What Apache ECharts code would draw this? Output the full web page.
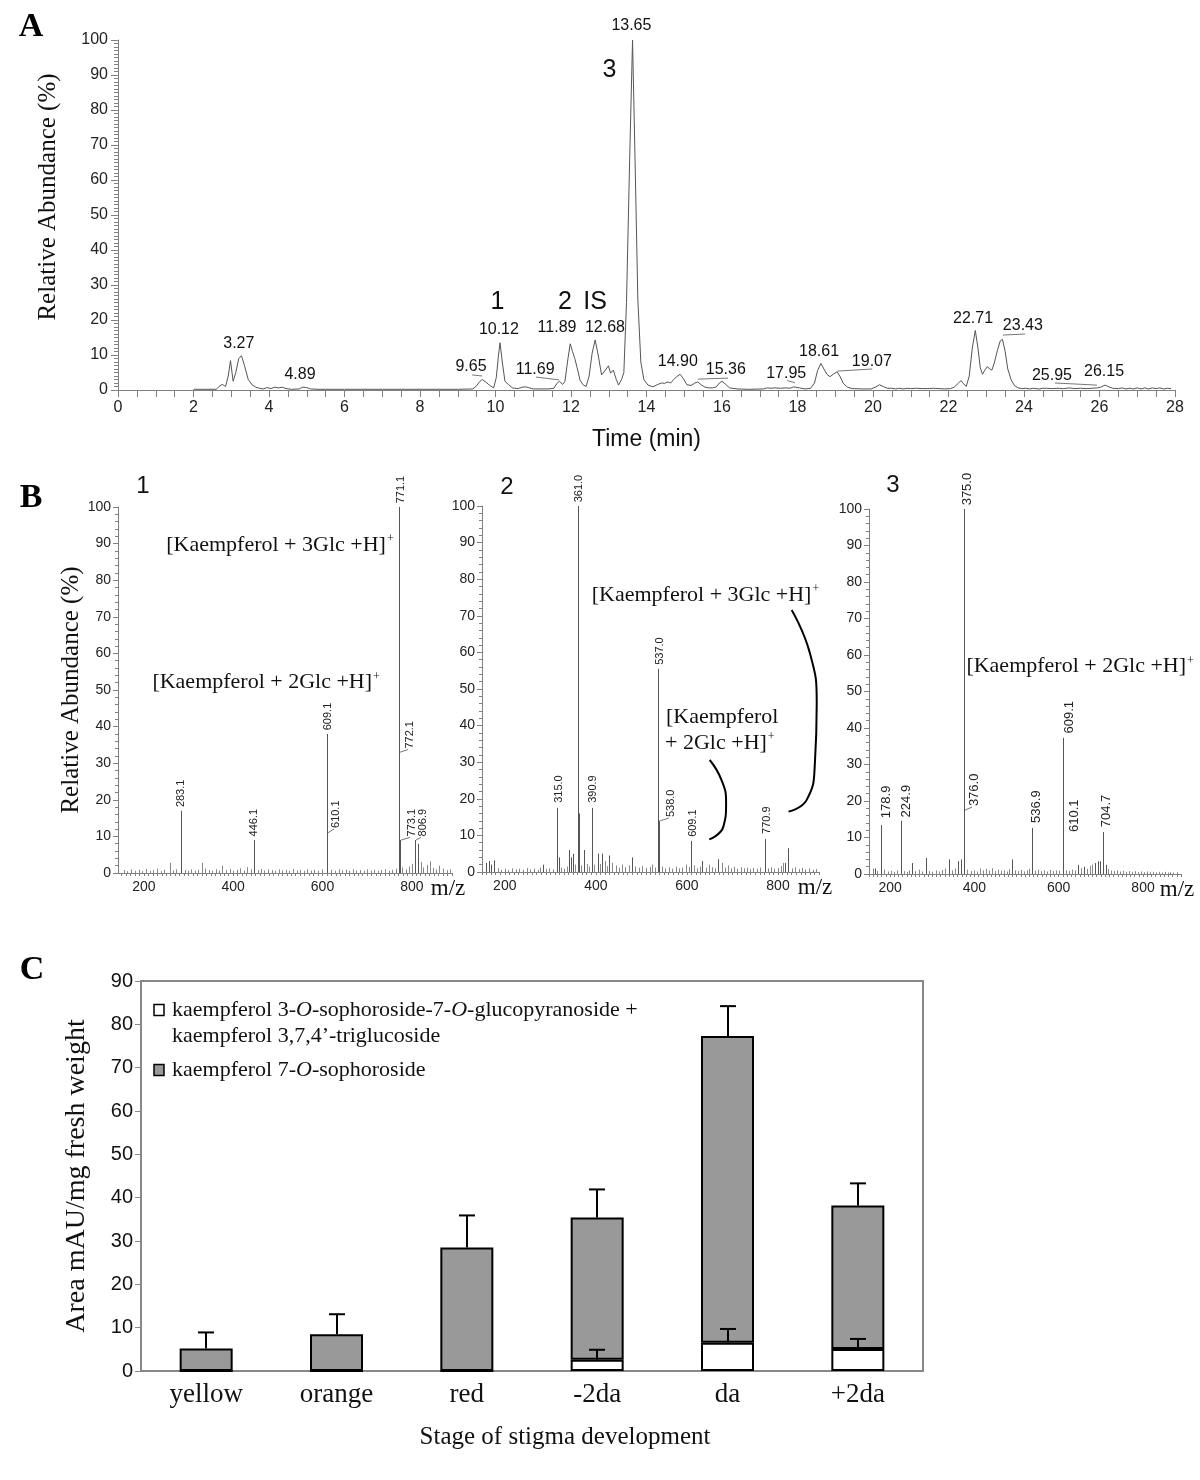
<!DOCTYPE html>
<html><head><meta charset="utf-8">
<script src="https://cdn.jsdelivr.net/npm/echarts@6/dist/echarts.min.js"></script>
<style>html,body{margin:0;padding:0;background:#fff}#c{width:1200px;height:1480px}</style>
</head><body><div id="c"></div>
<script>
const SANS = '"Liberation Sans", Arial, Helvetica, sans-serif';
const SERIF = '"Liberation Serif", "Times New Roman", Times, serif';

// ---------------- Panel A: chromatogram ----------------
const chromTime = [2.00,2.60,2.70,2.76,2.85,2.92,2.98,3.05,3.12,3.20,3.27,3.35,3.45,3.55,3.65,3.75,3.85,3.95,4.05,4.15,4.25,4.35,4.45,4.60,4.80,4.89,5.00,5.10,5.30,6.00,7.00,8.00,9.00,9.40,9.50,9.58,9.65,9.75,9.85,9.95,10.02,10.08,10.12,10.18,10.25,10.35,10.45,10.60,10.70,10.80,10.90,11.00,11.40,11.55,11.62,11.69,11.78,11.84,11.92,11.98,12.04,12.10,12.16,12.24,12.32,12.40,12.48,12.56,12.64,12.72,12.81,12.90,12.99,13.05,13.12,13.20,13.26,13.34,13.40,13.47,13.55,13.63,13.70,13.77,13.85,13.93,14.04,14.17,14.30,14.40,14.48,14.56,14.64,14.72,14.80,14.89,14.98,15.07,15.18,15.28,15.36,15.45,15.55,15.65,15.75,15.85,15.93,16.00,16.08,16.20,16.40,16.70,17.10,17.20,17.30,17.40,17.55,17.70,17.80,17.90,17.95,18.05,18.20,18.35,18.45,18.53,18.62,18.70,18.78,18.86,18.96,19.05,19.12,19.22,19.32,19.45,19.70,19.95,20.08,20.17,20.27,20.38,20.50,20.60,20.70,20.80,20.90,21.00,21.15,21.30,21.45,21.60,21.75,21.90,22.05,22.15,22.25,22.33,22.40,22.47,22.55,22.63,22.71,22.78,22.84,22.90,22.97,23.03,23.09,23.15,23.22,23.30,23.37,23.43,23.50,23.57,23.66,23.75,23.85,23.95,24.05,24.15,24.25,24.40,24.50,24.60,24.75,24.90,25.05,25.20,25.35,25.50,25.65,25.80,25.95,26.05,26.15,26.25,26.35,26.50,26.60,26.70,26.80,26.90,27.00,27.10,27.20,27.30,27.40,27.50,27.60,27.70,27.80,27.90];
const chromAbund = [0.2,0.2,1.2,1.6,1.0,4.0,8.4,2.5,5.0,9.0,9.8,7.0,3.0,1.5,0.8,0.5,0.3,0.7,0.4,0.8,0.6,0.8,0.4,0.2,0.3,0.8,0.7,0.3,0.2,0.2,0.2,0.2,0.2,0.3,1.2,2.4,3.0,2.2,1.3,0.6,3.5,10.0,13.5,8.0,2.5,1.5,0.6,0.4,0.8,0.9,0.6,0.3,0.3,0.5,1.8,2.5,1.6,2.5,9.0,13.2,11.0,9.0,6.5,2.8,1.5,1.0,4.0,10.5,14.3,10.0,4.3,5.5,6.9,4.8,5.7,3.0,1.4,3.0,5.0,25,64,100,64,26,8,3.0,1.4,0.9,1.6,2.0,1.9,2.3,2.0,3.0,3.8,4.5,3.2,1.5,1.3,2.0,2.3,1.5,0.8,0.6,0.6,0.9,2.0,2.5,1.8,0.6,0.3,0.2,0.3,0.6,0.5,0.6,0.5,0.6,0.5,0.9,1.1,0.6,0.3,0.5,2.0,5.5,7.6,6.0,4.5,3.8,4.6,5.2,4.0,1.8,0.8,0.4,0.3,0.3,0.9,1.5,1.0,0.5,0.5,0.3,0.5,0.3,0.5,0.4,0.5,0.4,0.4,0.5,0.4,0.3,0.4,0.8,1.8,2.7,1.8,1.0,4.0,12,17,12,6.5,4.5,5.8,6.7,6.0,5.7,8.0,11.5,14.0,14.5,11.0,6.0,2.9,1.2,0.6,0.4,0.5,0.3,0.5,0.3,0.5,0.5,0.4,0.5,0.4,0.6,0.4,0.5,0.4,0.5,0.6,0.9,1.4,0.9,0.5,0.4,0.6,0.3,0.5,0.3,0.6,0.3,0.6,0.3,0.6,0.4,0.6,0.3,0.5,0.4];

// retention-time labels: [text, time, abundance]
const chromLabels = [
  ['3.27',3.20,13.4],['4.89',4.82,4.3],['9.65',9.35,6.7],['10.12',10.09,17.4],
  ['11.69',11.05,5.7],['11.89',11.63,17.7],['12.68',12.90,17.7],['13.65',13.60,104],
  ['14.90',14.83,8.1],['15.36',16.10,5.7],['17.95',17.70,4.8],['18.61',18.57,10.9],
  ['19.07',19.97,8.0],['22.71',22.65,20.5],['23.43',23.97,18.3],['25.95',24.74,4.0],
  ['26.15',26.12,5.4]
];
const chromLeaders = [
  [9.38,4.3,9.65,4.0],[11.07,3.7,11.68,2.9],[15.36,3.1,16.16,3.4],[17.73,2.7,17.93,2.1],
  [19.05,5.4,19.98,6.0],[23.44,15.7,24.03,16.0],[24.82,2.0,25.93,1.4]
];
const peakIds = [['1',10.05,25.2],['2',11.84,25.2],['IS',12.64,25.2],['3',13.02,91.4]];

// ---------------- Panel B: mass spectra ----------------
const mzTicks = [200,400,600,800];
const spec1Peaks = [[283.1,17],[284.1,6.5],[446.1,9],[609.1,38],[610.1,11],[771.1,100],[772.1,33],[773.1,9],[806.9,9],[813.9,8]];
const spec1Noise = [[155,0.8],[163,0.5],[171,1.0],[180,0.6],[188,0.9],[196,0.5],[205,1.1],[213,0.6],[221,0.8],[230,1.2],[238,0.5],[246,0.9],[258,2.8],[266,0.7],[273,1.0],[291,0.8],[298,0.6],[306,1.0],[314,0.7],[322,0.9],[330,2.8],[337,1.2],[345,0.8],[353,0.6],[361,1.0],[368,0.7],[376,2.0],[384,0.8],[392,1.1],[400,0.6],[408,0.9],[416,1.3],[424,0.7],[432,1.6],[440,1.0],[455,0.8],[462,1.1],[470,0.7],[478,1.0],[486,0.8],[494,0.6],[502,1.0],[510,0.7],[518,0.9],[526,0.6],[534,1.1],[542,0.7],[550,0.9],[558,0.6],[566,1.0],[574,0.7],[582,0.9],[590,0.6],[598,1.0],[620,0.9],[628,0.6],[636,1.0],[644,0.7],[652,0.9],[660,0.6],[668,1.0],[676,0.7],[684,0.8],[692,0.6],[700,1.0],[708,0.7],[716,0.9],[724,0.6],[732,0.8],[740,1.0],[748,0.6],[756,0.9],[764,1.2],[779,1.5],[786,1.0],[794,1.8],[800,2.5],[820,3.0],[826,1.5],[833,2.2],[840,3.2],[848,1.4],[855,1.0],[862,2.0],[870,1.2],[878,0.8],[885,1.0]];
const spec2Peaks = [[158,2.5],[165,3.0],[170,2.0],[176,3.2],[283,2],[315.0,17.5],[318,4],[340,6],[345,4],[350,5],[361.0,100],[362.0,16],[373,6],[390.9,17.5],[404,5],[414,5],[429,4.5],[480,4],[537.0,55.5],[538.0,14],[609.1,8.5],[634,3],[669,3.5],[770.9,9],[815,2.5],[823,6.5]];
const spec2Noise = [[185,1.0],[192,0.6],[200,0.9],[208,0.5],[216,1.0],[224,0.7],[232,0.9],[240,0.6],[248,1.1],[256,0.7],[264,0.9],[272,0.6],[278,1.2],[290,0.8],[298,1.0],[306,0.7],[323,1.2],[330,0.9],[336,1.5],[355,2.0],[368,1.8],[380,2.2],[385,1.5],[397,2.0],[410,2.2],[420,3.0],[425,1.6],[436,2.5],[444,1.8],[450,1.2],[458,2.0],[465,1.3],[472,1.8],[487,1.5],[494,1.2],[502,1.6],[510,1.1],[518,1.4],[524,2.0],[530,1.2],[545,1.5],[552,1.0],[560,1.3],[568,0.9],[575,1.5],[583,1.0],[590,1.2],[598,2.0],[604,1.4],[616,1.8],[622,1.0],[628,1.5],[641,1.2],[648,2.0],[655,1.3],[662,1.0],[676,2.5],[683,1.2],[690,1.8],[697,1.0],[704,1.4],[711,0.9],[718,1.3],[725,1.0],[732,1.2],[739,0.8],[746,1.1],[753,0.9],[760,1.2],[778,1.0],[785,1.3],[792,0.9],[799,1.1],[806,1.6],[810,2.5],[830,1.0],[838,1.3],[845,0.8],[852,1.1],[860,0.7],[868,1.0],[876,0.6],[884,0.8]];
const spec3Peaks = [[165,1.5],[178.9,13.4],[224.9,14.6],[253,3],[285,4.4],[339,4],[362,3.5],[368,4],[375.0,100],[376.0,17.5],[490,4],[536.9,12.6],[609.1,37.3],[610.1,3],[645,2.5],[660,2],[686,3],[692,3.5],[698,3.5],[704.7,11.5],[712,2.5]];
const spec3Noise = [[160,1.5],[168,0.8],[186,1.2],[194,0.7],[202,0.9],[210,0.6],[217,1.0],[232,0.8],[240,0.6],[246,1.0],[260,0.8],[268,1.2],[276,0.7],[292,0.8],[300,0.6],[308,1.0],[316,0.7],[324,1.1],[331,1.5],[347,1.0],[354,1.5],[383,1.2],[391,0.8],[398,1.0],[406,0.7],[414,1.5],[421,1.0],[428,1.4],[435,1.0],[442,1.6],[449,0.8],[456,1.2],[463,0.9],[470,1.0],[477,0.7],[483,1.3],[497,1.0],[504,0.8],[511,1.1],[518,0.7],[525,1.0],[530,1.4],[544,0.9],[551,1.2],[558,0.8],[565,1.0],[572,0.7],[580,1.1],[587,0.8],[594,1.0],[601,0.9],[617,1.0],[624,0.8],[631,1.2],[638,1.0],[652,1.6],[667,1.4],[674,2.2],[680,2.6],[718,1.4],[725,1.0],[732,0.8],[739,1.0],[746,0.7],[753,0.9],[760,0.6],[767,0.8],[774,0.6],[781,0.8],[788,0.5],[795,0.7],[802,0.5],[809,0.7],[816,0.5],[823,0.6],[830,0.5],[837,0.6],[844,0.4],[851,0.6],[858,0.4],[865,0.5],[872,0.4],[880,0.5]];

// peak tags: [text, m/z, stick top %, label start %, pixel shift, leader?]
const spec1Tags = [['283.1',283.1,17,18,0,0],['446.1',446.1,9,10,0,0],['609.1',609.1,38,39,1,0],['610.1',610.1,11,12.3,9,1],['771.1',771.1,100,101,2,0],['772.1',772.1,33,34,11,1],['773.1',773.1,9,10,12,1],['806.9',806.9,9,10,8,1]];
const spec2Tags = [['315.0',315.0,17.5,18.9,2,0],['361.0',361.0,100,101,1,0],['390.9',390.9,17.5,18.9,1,0],['537.0',537.0,55.5,56.6,2,0],['538.0',538.0,14,15,12,1],['609.1',609.1,8.5,9.6,2,0],['770.9',770.9,9,10.4,2,0]];
const spec3Tags = [['178.9',178.9,13.4,15.3,5,0],['224.9',224.9,14.6,15.5,5,0],['375.0',375.0,100,101,3,0],['376.0',376.0,17.5,18.6,10,1],['536.9',536.9,12.6,14,4,0],['609.1',609.1,37.3,38.5,6,0],['610.1',610.1,3,11.5,11,0],['704.7',704.7,11.5,12.8,3,0]];

// ion annotations: [text, m/z (left), %]
const spec1Notes = [['[Kaempferol + 3Glc +H]{s|+}',250,89.6],['[Kaempferol + 2Glc +H]{s|+}',219,52]];
const spec2Notes = [['[Kaempferol + 3Glc +H]{s|+}',391,75.7],['[Kaempferol',554,42.3],['+ 2Glc +H]{s|+}',552,35.2]];
const spec3Notes = [['[Kaempferol + 2Glc +H]{s|+}',381,56.8]];
const bracketBig = [[830,71.6],[870,59.8],[885,46],[881,29.8],[863,19.7],[823,16.5]];
const bracketSmall = [[650,30.6],[676,25.1],[686,18.9],[680,12.4],[649,8.9]];

// ---------------- Panel C: stacked bars ----------------
const stages = ['yellow','orange','red','-2da','da','+2da'];
const triglucoside = [0,0,0,2.6,6.5,5.1];
const sophoroside = [5.2,8.5,28.5,32.8,70.8,33.1];
const totalErrTop = [8.9,13.1,35.9,41.9,84.2,43.3];
const triErrTop = [null,null,null,4.9,9.7,7.4];

// ---------------- helpers ----------------
const AX = '#808080';
function stickSeries(gi, pairs, color){
  return {type:'custom', xAxisIndex:gi, yAxisIndex:gi, silent:true, z:3, data:pairs,
    renderItem:(p, api)=>{
      const a = api.coord([api.value(0),0]); const b = api.coord([api.value(0),api.value(1)]);
      const x = Math.round(a[0]) + 0.5;
      return {type:'line', shape:{x1:x,y1:a[1],x2:x,y2:b[1]}, style:{stroke:color,lineWidth:1}};
    }};
}
function tagSeries(gi, tags, fs){
  return {type:'custom', xAxisIndex:gi, yAxisIndex:gi, silent:true, clip:false, z:4,
    data:tags.map(t=>[t[1],t[3]]),
    renderItem:(p, api)=>{
      const t = tags[p.dataIndex];
      const s = api.coord([t[1],t[2]]); const l = api.coord([t[1],t[3]]);
      const tx = Math.round(s[0]) + t[4]; const ty = l[1];
      const kids = [{type:'text', x:tx, y:ty, rotation:Math.PI/2,
        style:{text:t[0], fontSize:fs, fontFamily:SANS, fill:'#222', align:'left', verticalAlign:'middle'}}];
      if (t[5]) kids.push({type:'line', shape:{x1:Math.round(s[0])+1,y1:s[1],x2:tx-2,y2:ty+1}, style:{stroke:'#777',lineWidth:1}});
      return {type:'group', children:kids};
    }};
}
const RICH = {s:{fontSize:12, fontFamily:SERIF, fill:'#111', verticalAlign:'top', lineHeight:24, padding:[0,0,0,1]}};
function noteSeries(gi, notes){
  return {type:'custom', xAxisIndex:gi, yAxisIndex:gi, silent:true, clip:false, z:4,
    data:notes.map(n=>[n[1],n[2]]),
    renderItem:(p, api)=>{
      const n = notes[p.dataIndex]; const c = api.coord([n[1],n[2]]);
      return {type:'text', x:c[0], y:c[1], style:{text:n[0], fontSize:22, fontFamily:SERIF, fill:'#111', align:'left', verticalAlign:'middle', lineHeight:24, rich:RICH}};
    }};
}
function bracket(gi, pts){
  return {type:'line', xAxisIndex:gi, yAxisIndex:gi, data:pts, smooth:0.5, symbol:'none', silent:true,
    lineStyle:{color:'#000', width:2}, z:4};
}
function mzTickList(min, max){ const a=[]; for(let v=Math.ceil(min/10)*10; v<=max; v+=10) a.push(v); return a; }
function specX(gi, min, max){
  return {gridIndex:gi, type:'value', min:min, max:max,
    axisLine:{lineStyle:{color:AX,width:1}},
    axisTick:{show:true, length:3, customValues:mzTickList(min,max), lineStyle:{color:AX}},
    axisLabel:{customValues:mzTicks, fontSize:14, fontFamily:SANS, color:'#222', margin:7},
    splitLine:{show:false},
    name:'m/z', nameLocation:'end', nameGap:-4,
    nameTextStyle:{fontFamily:SERIF, fontSize:23, color:'#111', align:'center', verticalAlign:'top', padding:[4,0,0,0]}};
}
function specY(gi, withName){
  const o = {gridIndex:gi, type:'value', min:0, max:100, interval:10,
    axisLine:{show:true, lineStyle:{color:AX}},
    axisTick:{show:true, length:5, lineStyle:{color:AX}},
    minorTick:{show:true, splitNumber:5, length:3, lineStyle:{color:AX}},
    axisLabel:{fontSize:14, fontFamily:SANS, color:'#222', margin:7},
    splitLine:{show:false}, minorSplitLine:{show:false}};
  if (withName){ o.name='Relative Abundance (%)'; o.nameLocation='middle'; o.nameGap=34;
    o.nameTextStyle={fontFamily:SERIF, fontSize:25, color:'#111'}; }
  return o;
}

const option = {
  animation:false, backgroundColor:'#fff',
  grid:[
    {left:118, top:40, width:1057, height:350},
    {left:118, top:507, width:334, height:366},
    {left:482, top:506, width:337, height:366},
    {left:869, top:509, width:312, height:365},
    {left:141, top:981, width:782, height:390, show:true, borderColor:'#888', borderWidth:2, backgroundColor:'transparent'}
  ],
  xAxis:[
    {gridIndex:0, type:'value', min:0, max:28, interval:2,
      axisLine:{lineStyle:{color:AX}}, axisTick:{length:7, lineStyle:{color:AX}},
      minorTick:{show:true, splitNumber:4, length:7, lineStyle:{color:AX}},
      axisLabel:{fontSize:16, fontFamily:SANS, color:'#222', margin:10},
      splitLine:{show:false}, minorSplitLine:{show:false},
      name:'Time (min)', nameLocation:'middle', nameGap:38,
      nameTextStyle:{fontFamily:SANS, fontSize:23, color:'#111'}},
    specX(1,142,890), specX(2,150,890), specX(3,150,890),
    {gridIndex:4, type:'category', data:stages,
      axisLine:{lineStyle:{color:'#888', width:2}}, axisTick:{show:false},
      axisLabel:{fontFamily:SERIF, fontSize:27, color:'#111', margin:10},
      name:'Stage of stigma development', nameLocation:'middle', nameGap:54,
      nameTextStyle:{fontFamily:SERIF, fontSize:25, color:'#111', padding:[0,0,0,66]}}
  ],
  yAxis:[
    {gridIndex:0, type:'value', min:0, max:100, interval:10,
      axisLine:{show:true, lineStyle:{color:AX}}, axisTick:{show:true, length:7, lineStyle:{color:AX}},
      minorTick:{show:true, splitNumber:10, length:4, lineStyle:{color:AX}},
      axisLabel:{fontSize:16, fontFamily:SANS, color:'#222', margin:10},
      splitLine:{show:false}, minorSplitLine:{show:false},
      name:'Relative Abundance (%)', nameLocation:'middle', nameGap:57,
      nameTextStyle:{fontFamily:SERIF, fontSize:25, color:'#111', padding:[0,0,0,36]}},
    specY(1,true), specY(2,false), specY(3,false),
    {gridIndex:4, type:'value', min:0, max:90, interval:10,
      axisLine:{show:true, lineStyle:{color:'#888', width:2}}, axisTick:{show:true, length:6, lineStyle:{color:'#888'}},
      axisLabel:{fontSize:20, fontFamily:SANS, color:'#111', margin:8},
      splitLine:{show:false},
      name:'Area mAU/mg fresh weight', nameLocation:'middle', nameGap:50,
      nameTextStyle:{fontFamily:SERIF, fontSize:28, color:'#111'}}
  ],
  series:[
    {type:'line', name:'chromatogram', xAxisIndex:0, yAxisIndex:0, symbol:'none',
      data:chromTime.map((t,i)=>[t, chromAbund[i]]), lineStyle:{color:'#555', width:1}, z:3},
    {type:'custom', xAxisIndex:0, yAxisIndex:0, silent:true, clip:false, z:4,
      data:chromLabels.map(l=>[l[1],l[2]]),
      renderItem:(p, api)=>{ const l = chromLabels[p.dataIndex]; const c = api.coord([l[1],l[2]]);
        return {type:'text', x:c[0], y:c[1], style:{text:l[0], fontSize:16, fontFamily:SANS, fill:'#111', align:'center', verticalAlign:'middle'}}; }},
    {type:'custom', xAxisIndex:0, yAxisIndex:0, silent:true, clip:false, z:4,
      data:chromLeaders.map(l=>[l[0],l[1]]),
      renderItem:(p, api)=>{ const l = chromLeaders[p.dataIndex]; const a = api.coord([l[0],l[1]]); const b = api.coord([l[2],l[3]]);
        return {type:'line', shape:{x1:a[0],y1:a[1],x2:b[0],y2:b[1]}, style:{stroke:'#777', lineWidth:1}}; }},
    {type:'custom', xAxisIndex:0, yAxisIndex:0, silent:true, clip:false, z:4,
      data:peakIds.map(l=>[l[1],l[2]]),
      renderItem:(p, api)=>{ const l = peakIds[p.dataIndex]; const c = api.coord([l[1],l[2]]);
        return {type:'text', x:c[0], y:c[1], style:{text:l[0], fontSize:25, fontFamily:SANS, fill:'#111', align:'center', verticalAlign:'middle'}}; }},

    stickSeries(1, spec1Noise, '#888'), stickSeries(1, spec1Peaks, '#555'), tagSeries(1, spec1Tags, 11), noteSeries(1, spec1Notes),
    stickSeries(2, spec2Noise, '#888'), stickSeries(2, spec2Peaks, '#555'), tagSeries(2, spec2Tags, 11), noteSeries(2, spec2Notes),
    bracket(2, bracketBig), bracket(2, bracketSmall),
    stickSeries(3, spec3Noise, '#888'), stickSeries(3, spec3Peaks, '#555'), tagSeries(3, spec3Tags, 13), noteSeries(3, spec3Notes),

    {type:'bar', name:'kaempferol 3-O-sophoroside-7-O-glucopyranoside + kaempferol 3,7,4’-triglucoside',
      xAxisIndex:4, yAxisIndex:4, stack:'c', data:triglucoside, barWidth:53,
      itemStyle:{color:'#fff', borderColor:'#000', borderWidth:2}},
    {type:'bar', name:'kaempferol 7-O-sophoroside', xAxisIndex:4, yAxisIndex:4, stack:'c', data:sophoroside, barWidth:53,
      itemStyle:{color:'#999', borderColor:'#000', borderWidth:2}},
    {type:'custom', name:'error', xAxisIndex:4, yAxisIndex:4, silent:true, z:5,
      data:stages.map((s,i)=>[i, triglucoside[i]+sophoroside[i], totalErrTop[i]])
        .concat(stages.map((s,i)=>[i, triglucoside[i], triErrTop[i]]).filter(d=>d[2]!=null)),
      renderItem:(p, api)=>{
        const a = api.coord([api.value(0), api.value(1)]); const b = api.coord([api.value(0), api.value(2)]);
        const x = Math.round(a[0]);
        return {type:'group', children:[
          {type:'line', shape:{x1:x,y1:a[1],x2:x,y2:b[1]}, style:{stroke:'#000',lineWidth:2}},
          {type:'line', shape:{x1:x-8,y1:b[1],x2:x+8,y2:b[1]}, style:{stroke:'#000',lineWidth:2}}]};
      }}
  ],
  graphic:[
    {type:'text', x:31, y:27, style:{text:'A', fontSize:34, fontWeight:'bold', fontFamily:SERIF, fill:'#000', align:'center', verticalAlign:'middle'}},
    {type:'text', x:31, y:498, style:{text:'B', fontSize:34, fontWeight:'bold', fontFamily:SERIF, fill:'#000', align:'center', verticalAlign:'middle'}},
    {type:'text', x:32, y:970, style:{text:'C', fontSize:34, fontWeight:'bold', fontFamily:SERIF, fill:'#000', align:'center', verticalAlign:'middle'}},
    {type:'text', x:143, y:486, style:{text:'1', fontSize:24, fontFamily:SANS, fill:'#111', align:'center', verticalAlign:'middle'}},
    {type:'text', x:507, y:487, style:{text:'2', fontSize:24, fontFamily:SANS, fill:'#111', align:'center', verticalAlign:'middle'}},
    {type:'text', x:893, y:485, style:{text:'3', fontSize:24, fontFamily:SANS, fill:'#111', align:'center', verticalAlign:'middle'}},
    {type:'rect', shape:{x:154, y:1004.5, width:10, height:11}, style:{fill:'#fff', stroke:'#000', lineWidth:1.5}},
    {type:'text', x:172, y:1010, style:{text:'kaempferol 3-{i|O}-sophoroside-7-{i|O}-glucopyranoside +\nkaempferol 3,7,4’-triglucoside',
      fontSize:22, fontFamily:SERIF, fill:'#111', align:'left', verticalAlign:'top', lineHeight:26, padding:[-13,0,0,0],
      rich:{i:{fontSize:22, fontFamily:SERIF, fontStyle:'italic', fill:'#111', lineHeight:26}}}},
    {type:'rect', shape:{x:154, y:1064.5, width:10, height:11}, style:{fill:'#999', stroke:'#000', lineWidth:1.5}},
    {type:'text', x:172, y:1070, style:{text:'kaempferol 7-{i|O}-sophoroside',
      fontSize:22, fontFamily:SERIF, fill:'#111', align:'left', verticalAlign:'middle', lineHeight:26,
      rich:{i:{fontSize:22, fontFamily:SERIF, fontStyle:'italic', fill:'#111', lineHeight:26}}}}
  ]
};
const chart = echarts.init(document.getElementById('c'), null, {renderer:'canvas', width:1200, height:1480});
chart.setOption(option);
</script>
</body></html>
